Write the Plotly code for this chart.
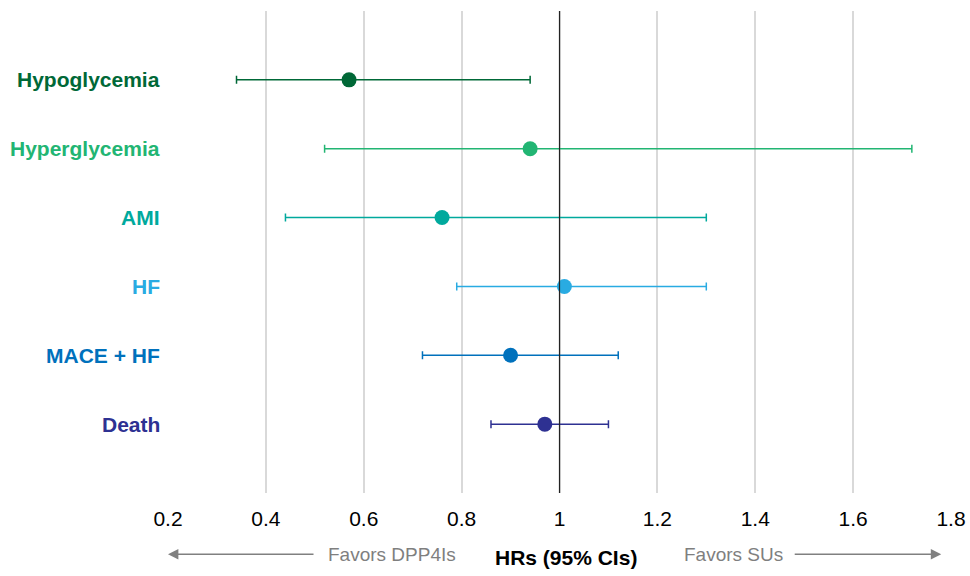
import plotly.graph_objects as go

outcomes = ["Hypoglycemia", "Hyperglycemia", "AMI", "HF", "MACE + HF", "Death"]
hr = [0.57, 0.94, 0.76, 1.01, 0.90, 0.97]
ci_low = [0.34, 0.52, 0.44, 0.79, 0.72, 0.86]
ci_high = [0.94, 1.72, 1.30, 1.30, 1.12, 1.10]
colors = ["#006837", "#22b573", "#00a99d", "#29abe2", "#0071bc", "#2e3192"]
x_ticks = [0.2, 0.4, 0.6, 0.8, 1, 1.2, 1.4, 1.6, 1.8]
x_ticklabels = ["0.2", "0.4", "0.6", "0.8", "1", "1.2", "1.4", "1.6", "1.8"]

FONT = "Liberation Sans, Arial, sans-serif"

fig = go.Figure()
for i, name in enumerate(outcomes):
    fig.add_trace(go.Scatter(
        x=[hr[i]], y=[i], mode="markers", name=name,
        marker=dict(color=colors[i], size=15),
        error_x=dict(type="data", symmetric=False,
                     array=[ci_high[i] - hr[i]], arrayminus=[hr[i] - ci_low[i]],
                     color=colors[i], thickness=1.5, width=4),
        showlegend=False, hoverinfo="skip",
    ))
    fig.add_annotation(x=0, xref="paper", y=i, yref="y", text="<b>%s</b>" % name,
                       xanchor="right", xshift=-6, showarrow=False,
                       font=dict(family=FONT, size=21, color=colors[i]))

fig.add_shape(type="line", x0=1, x1=1, y0=0, y1=1, xref="x", yref="paper",
              line=dict(color="#222222", width=1.2))

ay = -0.127
fig.add_annotation(x=0.2, y=ay, xref="x", yref="paper", ax=147, ay=0,
                   axref="pixel", ayref="pixel", showarrow=True, text="",
                   arrowhead=2, arrowsize=1.3, arrowwidth=1.6, arrowcolor="#808080")
fig.add_annotation(x=1.78, y=ay, xref="x", yref="paper", ax=-148, ay=0,
                   axref="pixel", ayref="pixel", showarrow=True, text="",
                   arrowhead=2, arrowsize=1.3, arrowwidth=1.6, arrowcolor="#808080")
fig.add_annotation(x=0.657, y=ay, xref="x", yref="paper", text="Favors DPP4Is",
                   xanchor="center", yanchor="middle",
                   showarrow=False, font=dict(family=FONT, size=19, color="#7f7f7f"))
fig.add_annotation(x=1.0135, y=ay - 0.007, xref="x", yref="paper", text="<b>HRs (95% CIs)</b>",
                   xanchor="center", yanchor="middle",
                   showarrow=False, font=dict(family=FONT, size=21, color="#000000"))
fig.add_annotation(x=1.356, y=ay, xref="x", yref="paper", text="Favors SUs",
                   xanchor="center", yanchor="middle",
                   showarrow=False, font=dict(family=FONT, size=19, color="#7f7f7f"))

fig.update_layout(
    width=970, height=576,
    margin=dict(l=168, r=19, t=11, b=83),
    paper_bgcolor="white", plot_bgcolor="white",
    font=dict(family=FONT, size=21, color="#000000"),
    xaxis=dict(range=[0.2, 1.8], tickvals=x_ticks, ticktext=x_ticklabels,
               showgrid=True, gridcolor="#d9d9d9", gridwidth=2,
               zeroline=False, showline=False, ticks="", ticklabelstandoff=11,
               automargin=False,
               tickfont=dict(size=21, color="#000000")),
    yaxis=dict(range=[6, -1], showticklabels=False, showgrid=False,
               zeroline=False, showline=False),
)

fig.write_html("out.html", config={"displayModeBar": False},
               post_script="document.body.style.margin='0';")
